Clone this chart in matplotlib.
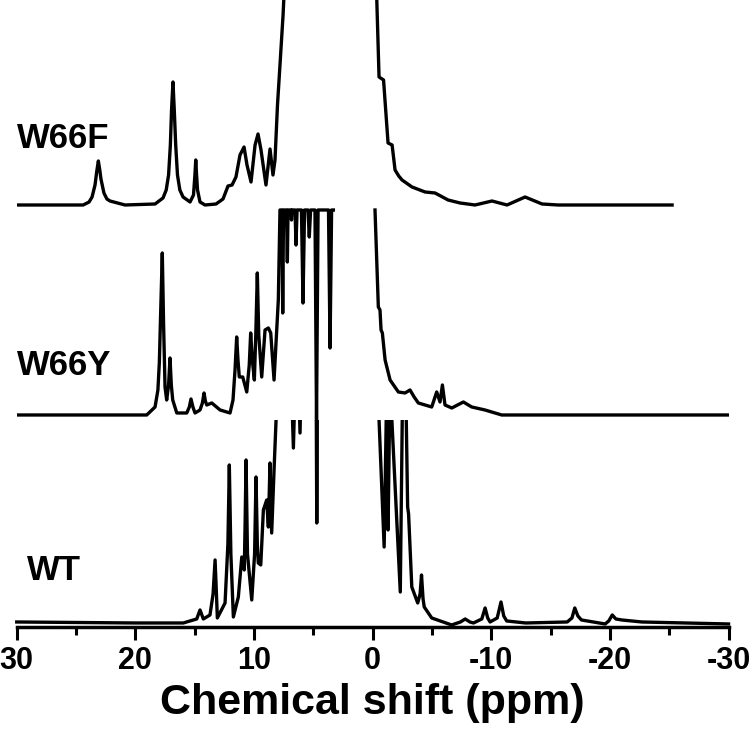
import numpy as np
import matplotlib.pyplot as plt
from matplotlib.patches import Rectangle

nan = np.nan

# traces: chemical shift (ppm) and intensity (a.u.)
# W66F
f_ppm = [30, 24.4, 23.9, 23.65, 23.4, 23.25, 23.12, 23.0, 22.9, 22.65, 22.4, 22.14, 20.87,
         18.34, 17.67, 17.4, 17.2, 17.05, 16.95, 16.83, 16.72, 16.6, 16.45, 16.25, 15.98,
         15.39, 15.1, 14.98, 14.91, 14.84, 14.76, 14.55, 14.13, 13.2, 12.61, 12.19, 11.85,
         11.52, 11.18, 10.84, 10.59, 10.25, 9.91, 9.66, 9.41, 8.99, 8.65, 8.40, 8.23, 8.02,
         7.81, 7.55, 7.45, 7.3, 6.0, 3.0, 1.0, 0.0, -0.35, -0.54, -0.92, -1.13, -1.30, -1.64,
         -1.89, -2.2, -2.48, -3.32, -4.42, -5.26, -6.36, -7.37, -8.63, -10.06, -11.33, -12.85,
         -14.28, -15.63, -25.24]
f_int = [0, 0, 3, 8, 20, 34, 44, 35, 26, 12, 6, 4, 0,
         1, 7, 15, 30, 60, 95, 123, 95, 60, 30, 15, 8,
         3, 10, 30, 45, 30, 15, 3, 0, 1, 6, 19, 20,
         28, 50, 58, 40, 23, 60, 71, 55, 20, 56, 30, 45, 100,
         140, 190, 215, 280, 400, 450, 400, 300, 205, 128, 125, 90, 62, 60,
         35, 29, 25, 18, 13, 12, 5, 2, 0, 4, 0, 8,
         1, 0, 0]

# W66Y
y_ppm = [30, 19.04, 18.34, 18.1, 17.98, 17.85, 17.73, 17.62, 17.5, 17.36, 17.2, 17.08, 16.97,
         16.85, 16.51, 15.67, 15.45, 15.31, 15.15, 14.97, 14.55, 14.35, 14.21, 14.1, 13.98,
         13.56, 12.86, 12.02, 11.77, 11.6, 11.46, 11.35, 11.24, 10.95, 10.61, 10.4, 10.28,
         10.14, 9.97, 9.85, 9.72, 9.6, 9.35, 9.07, 8.79, 8.59, 8.31, 7.95, 7.81, 7.64, 7.58,
         7.51, 7.26, 7.19, 7.13, 6.88, 6.84, 6.79, 6.54, 6.46, 6.37, 6.0, 5.87, 5.74, 5.45,
         5.34, 5.23, 4.86, 4.73, 4.60, 3.72, 3.59, 3.46, 3.31, nan, -0.20, -0.48, -0.62,
         -0.71, -0.82, -1.05, -1.47, -2.17, -2.73, -3.15, -3.5, -3.85, -4.98, -5.40, -5.68,
         -5.88, -6.10, -6.67, -7.65, -8.35, -9.47, -10.88, -30]
y_int = [0, 0, 8, 25, 52, 110, 162, 90, 28, 15, 30, 57, 30,
         15, 2, 2, 8, 16, 8, 2, 5, 12, 22, 14, 10,
         12, 5, 2, 15, 45, 78, 55, 38, 38, 23, 50, 82,
         55, 35, 80, 142, 80, 38, 85, 87, 82, 35, 115, 205, 205, 102,
         205, 205, 153, 205, 205, 195, 205, 205, 170, 205, 205, 112, 205, 205,
         178, 205, 205, -5, 205, 205, 67, 205, 205, nan, 205, 108, 105,
         85, 82, 55, 35, 23, 22, 25, 18, 12, 8, 23, 13,
         30, 10, 7, 13, 8, 5, 0, 0]

# WT
w_ppm = [30, 20, 15.96, 14.83, 14.55, 14.27, 13.71, 13.45, 13.28, 13.15, 13.09, 12.44, 12.2,
         12.08, 11.95, 11.74, 11.32, 11.03, 10.82, 10.75, 10.67, 10.55, 10.19, 9.95, 9.83,
         9.72, 9.64, 9.43, 9.21, 8.93, 8.79, 8.65, 8.51, 8.31, 8.14, 7.9, 7.0, 6.68, 6.4,
         6.12, 5.9, 4.8, 4.71, 4.6, 3.0, 1.0, 0.0, -0.54, -0.97, -1.18, -1.30, -1.45, -1.62,
         -2.33, -2.52, -2.80, -2.95, -3.03, -3.30, -3.80, -4.0, -4.12, -4.25, -4.35, -4.98,
         -6.66, -7.4, -7.80, -8.2, -8.5, -9.2, -9.48, -9.7, -9.9, -10.5, -10.82, -11.05,
         -11.3, -12.9, -16.4, -16.8, -17.04, -17.3, -17.6, -19.6, -19.9, -20.2, -20.5,
         -21.0, -22.7, -30]
w_int = [2, 1, 1, 5, 14, 5, 9, 30, 64, 25, 6, 21, 80,
         159, 70, 7, 27, 67, 54, 100, 164, 70, 24, 70, 147,
         80, 61, 59, 114, 124, 97, 161, 91, 154, 204, 300, 300, 176, 300,
         191, 320, 350, 101, 350, 400, 400, 350, 204, 77, 230, 94, 230, 204,
         32, 230, 230, 117, 110, 37, 21, 30, 49, 25, 17, 6,
         -1, 2, 5, 2, 1, 5, 16, 6, 2, 6, 22, 8,
         3, 1, 2, 6, 16, 8, 4, 0, 3, 9, 5,
         4, 2, 0]

names = ['W66F', 'W66Y', 'WT']
offsets = [422, 212, 3]

plt.rcParams['axes.unicode_minus'] = False

fig = plt.figure(figsize=(7.5, 7.31), dpi=100)
ax = fig.add_axes([0.0223, 0.1423, 0.9491, 0.8577])

ax.plot(f_ppm, np.array(f_int) + offsets[0], color='k', lw=2.4)
ax.plot(y_ppm, np.array(y_int) + offsets[1], color='k', lw=2.4)
wt_line, = ax.plot(w_ppm, np.array(w_int) + offsets[2], color='k', lw=2.4)
# WT spectrum is cut just below the W66Y baseline
wt_line.set_clip_path(Rectangle((35, -50), -70, offsets[2] + 204 + 50, transform=ax.transData))

ax.text(30, 479, names[0], fontsize=25, fontweight='bold', family='Liberation Sans', va='baseline')
ax.text(30, 252, names[1], fontsize=25, fontweight='bold', family='Liberation Sans', va='baseline')
ax.text(29.1, 47, names[2], fontsize=25, fontweight='bold', family='Liberation Sans', va='baseline')

ax.set_xlim(30, -30)
ax.set_ylim(0, 627)
for s in ['top', 'left', 'right']:
    ax.spines[s].set_visible(False)
ax.spines['bottom'].set_linewidth(2.5)
ax.set_yticks([])
ax.set_xticks([30, 20, 10, 0, -10, -20, -30])
ax.set_xticklabels(['30', '20', '10', '0', '-10', '-20', '-30'],
                   fontsize=22, fontweight='bold', family='Liberation Sans')
ax.set_xticks([25, 15, 5, -5, -15, -25], minor=True)
ax.tick_params(axis='x', which='major', length=9, width=2.2, pad=5)
ax.tick_params(axis='x', which='minor', length=6, width=2.2)
ax.set_xlabel('Chemical shift (ppm)', fontsize=31, fontweight='bold', family='Liberation Sans', labelpad=5)

fig.savefig('out.png', dpi=100)
